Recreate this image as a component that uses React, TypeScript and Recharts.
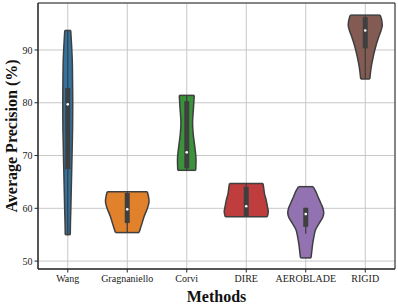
import React from "react";
import {
  ComposedChart,
  Area,
  Line,
  XAxis,
  YAxis,
  CartesianGrid,
  ReferenceArea,
} from "recharts";

const methods = ["Wang", "Gragnaniello", "Corvi", "DIRE", "AEROBLADE", "RIGID"];
const colors = ["#3274a1", "#e1812c", "#3a923a", "#c03d3e", "#9372b2", "#845b53"];
const yTicks = [50, 60, 70, 80, 90];

// violin outline per method: [average precision, half width in category units]
const wangProfile = [
  [93.7, 0.05], [91, 0.064], [88, 0.076], [84, 0.081], [80, 0.084], [75, 0.081],
  [70, 0.072], [65, 0.062], [60, 0.052], [57, 0.045], [55, 0.042],
];
const gragnanielloProfile = [
  [63.15, 0.336], [62.5, 0.352], [61.3, 0.366], [60, 0.338], [58.4, 0.282],
  [57, 0.244], [56, 0.215], [55.4, 0.198],
];
const corviProfile = [
  [81.4, 0.126], [79, 0.113], [76.2, 0.098], [74, 0.109], [71.7, 0.135],
  [69.2, 0.156], [67.2, 0.151],
];
const direProfile = [
  [64.7, 0.281], [63.8, 0.294], [62.8, 0.306], [61.5, 0.336], [60.3, 0.356],
  [59.4, 0.37], [58.4, 0.353],
];
const aerobladeProfile = [
  [64.1, 0.121], [63.2, 0.168], [62.2, 0.205], [61, 0.252], [60, 0.289],
  [59.1, 0.302], [58.3, 0.286], [57.5, 0.244], [55.9, 0.163], [54.5, 0.135],
  [53.4, 0.118], [51.5, 0.098], [50.6, 0.088],
];
const rigidProfile = [
  [96.6, 0.252], [95.8, 0.274], [94.7, 0.286], [93.5, 0.26], [92.5, 0.227],
  [90, 0.16], [88.5, 0.13], [86.8, 0.101], [84.5, 0.076],
];
const profiles = [
  wangProfile, gragnanielloProfile, corviProfile,
  direProfile, aerobladeProfile, rigidProfile,
];

// inner box: whisker ends, quartiles, median
const whiskerLow = [55, 55.4, 67.2, 58.4, 55.2, 84.5];
const q1 = [67.4, 57.2, 67.6, 58.4, 56.5, 90.3];
const medians = [79.7, 59.8, 70.6, 60.4, 58.9, 93.7];
const q3 = [82.8, 62.9, 80.3, 64.1, 60.1, 96.2];
const whiskerHigh = [93.7, 63.15, 81.4, 64.7, 60.1, 96.6];

const FONT = '"Liberation Serif", "DejaVu Serif", serif';
const EDGE = "#3f3f3f";

const violins = methods.map((name, i) => {
  const p = profiles[i];
  const top = p[0];
  const bottom = p[p.length - 1];
  return {
    name,
    color: colors[i],
    body: p.map(([v, w]) => ({ v, range: [i - w, i + w] })),
    topCap: [{ v: top[0], x: i - top[1] }, { v: top[0], x: i + top[1] }],
    bottomCap: [{ v: bottom[0], x: i - bottom[1] }, { v: bottom[0], x: i + bottom[1] }],
    whisker: [{ v: whiskerLow[i], x: i }, { v: whiskerHigh[i], x: i }],
    box: [{ v: q1[i], x: i }, { v: q3[i], x: i }],
    median: [{ v: medians[i], x: i }],
  };
});

function YLabel(props: any) {
  const { viewBox } = props;
  const cx = viewBox.x + 11;
  const cy = viewBox.y + viewBox.height / 2;
  return (
    <text
      x={cx}
      y={cy}
      transform={`rotate(-90, ${cx}, ${cy})`}
      textAnchor="middle"
      dominantBaseline="central"
      fontFamily={FONT}
      fontWeight="bold"
      fontSize={16}
      fill="#111"
    >
      Average Precision (%)
    </text>
  );
}

function XLabel(props: any) {
  const { viewBox } = props;
  return (
    <text
      x={viewBox.x + viewBox.width / 2}
      y={viewBox.y + 27}
      textAnchor="middle"
      dominantBaseline="central"
      fontFamily={FONT}
      fontWeight="bold"
      fontSize={16}
      fill="#111"
    >
      Methods
    </text>
  );
}

export default function App() {
  return (
    <div
      style={{
        position: "absolute",
        left: 0,
        top: 0,
        background: "#fff",
        fontFamily: FONT,
      }}
    >
      <ComposedChart
        width={398}
        height={304}
        layout="vertical"
        margin={{ top: 3, right: 3, left: 0, bottom: 0 }}
        style={{ fontFamily: FONT }}
      >
        <CartesianGrid stroke="#c8c8c8" strokeWidth={1} />
        <XAxis
          type="number"
          domain={[-0.5, 5.5]}
          ticks={[0, 1, 2, 3, 4, 5]}
          tickFormatter={(v) => methods[v]}
          interval={0}
          height={35}
          stroke="#262626"
          tickSize={3.5}
          tickMargin={2}
          tick={{ fontSize: 10, fill: "#222", style: { fontFamily: FONT } }}
          label={{ content: <XLabel /> }}
          allowDataOverflow
        />
        <YAxis
          type="number"
          dataKey="v"
          domain={[48.5, 98.9]}
          ticks={yTicks}
          reversed
          width={38}
          stroke="#262626"
          tickSize={3.5}
          tickMargin={2}
          tick={{ fontSize: 10, fill: "#222", style: { fontFamily: FONT } }}
          label={{ content: <YLabel /> }}
          allowDataOverflow
        />
        <ReferenceArea
          x1={-0.5}
          x2={5.5}
          y1={48.5}
          y2={98.9}
          fill="none"
          stroke="#262626"
          strokeWidth={1}
        />
        {violins.map((vl) => (
          <Area
            key={`body-${vl.name}`}
            data={vl.body}
            dataKey="range"
            type="monotone"
            fill={vl.color}
            fillOpacity={1}
            stroke={EDGE}
            strokeWidth={1.5}
            isAnimationActive={false}
          />
        ))}
        {violins.map((vl) => (
          <Line
            key={`top-${vl.name}`}
            data={vl.topCap}
            dataKey="x"
            type="linear"
            stroke={EDGE}
            strokeWidth={1.5}
            dot={false}
            isAnimationActive={false}
          />
        ))}
        {violins.map((vl) => (
          <Line
            key={`bottom-${vl.name}`}
            data={vl.bottomCap}
            dataKey="x"
            type="linear"
            stroke={EDGE}
            strokeWidth={1.5}
            dot={false}
            isAnimationActive={false}
          />
        ))}
        {violins.map((vl) => (
          <Line
            key={`whisker-${vl.name}`}
            data={vl.whisker}
            dataKey="x"
            type="linear"
            stroke={EDGE}
            strokeWidth={1.3}
            dot={false}
            isAnimationActive={false}
          />
        ))}
        {violins.map((vl) => (
          <Line
            key={`box-${vl.name}`}
            data={vl.box}
            dataKey="x"
            type="linear"
            stroke={EDGE}
            strokeWidth={5}
            dot={false}
            isAnimationActive={false}
          />
        ))}
        {violins.map((vl) => (
          <Line
            key={`median-${vl.name}`}
            data={vl.median}
            dataKey="x"
            stroke="none"
            dot={{ r: 1.3, fill: "#fff", stroke: "none" }}
            isAnimationActive={false}
          />
        ))}
      </ComposedChart>
    </div>
  );
}
